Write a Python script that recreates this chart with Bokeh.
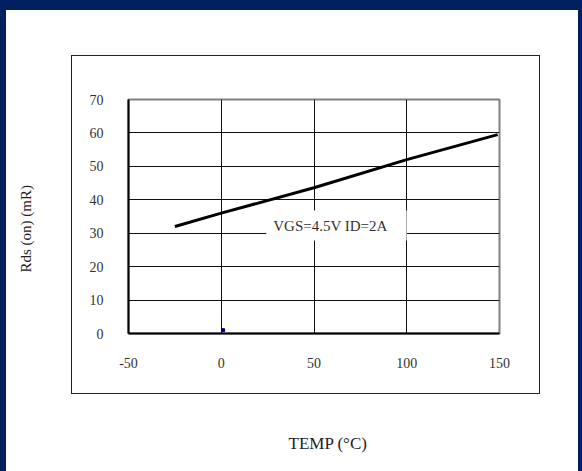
from bokeh.plotting import figure
from bokeh.models import Range1d, FixedTicker, Label, Title, InlineStyleSheet
from bokeh.embed import file_html
from bokeh.resources import INLINE

# ---- data ----
temp_c = [-25, 0, 50, 100, 149]
rds_mohm = [32.0, 36.0, 43.6, 52.0, 59.5]
marker_x = [1]
marker_y = [1]
x_ticks = [-50, 0, 50, 100, 150]
y_ticks = [0, 10, 20, 30, 40, 50, 60, 70]
condition_text = "VGS=4.5V ID=2A"
y_title = "Rds (on) (mR)"
x_title = "TEMP (\u00b0C)"

FONT = "Liberation Serif"
NAVY = "#002060"

p = figure(width=582, height=471, output_backend="svg", toolbar_location=None,
           x_range=Range1d(-50, 150), y_range=Range1d(0, 70),
           min_border_left=128, min_border_right=83,
           min_border_top=99, min_border_bottom=138)
p.background_fill_color = "white"
p.border_fill_color = "white"
p.outline_line_color = "#808080"
p.outline_line_width = 2

for ax in (p.xaxis[0], p.yaxis[0]):
    ax.axis_line_color = "black"
    ax.axis_line_width = 2
    ax.major_tick_line_color = None
    ax.minor_tick_line_color = None
    ax.major_label_text_font = FONT
    ax.major_label_text_font_size = "14px"
    ax.major_label_text_color = "#333333"

p.xaxis[0].ticker = FixedTicker(ticks=x_ticks)
p.xaxis[0].major_label_overrides = {t: str(t) for t in x_ticks}
p.yaxis[0].ticker = FixedTicker(ticks=y_ticks)
p.xaxis[0].major_label_standoff = 18
p.yaxis[0].major_label_standoff = 19

p.xgrid.ticker = FixedTicker(ticks=x_ticks)
p.ygrid.ticker = FixedTicker(ticks=y_ticks)
p.xgrid.grid_line_color = "#111111"
p.ygrid.grid_line_color = "#111111"
p.xgrid.grid_line_width = 1
p.ygrid.grid_line_width = 1

p.line(temp_c, rds_mohm, line_color="black", line_width=3)
p.scatter(marker_x, marker_y, marker="square", size=3, color="#000080")

p.add_layout(Label(x=62.1, y=32.3, text=condition_text, text_font=FONT,
                   text_font_size="15px", text_color="#333333",
                   text_align="center", text_baseline="middle",
                   background_fill_color="white", padding=(7, 19, 7, 7)))

# blank spacers place the axis titles where the reference has them
p.add_layout(Title(text=" ", standoff=58, text_font_size="1px"), "below")
p.add_layout(Title(text=x_title, align="left", offset=160, standoff=0,
                   text_font=FONT, text_font_size="17px", text_font_style="normal",
                   text_color="#222222"), "below")
p.add_layout(Title(text=" ", standoff=50, text_font_size="1px"), "left")
p.add_layout(Title(text=y_title, align="left", offset=61, standoff=0,
                   text_font=FONT, text_font_size="15px", text_font_style="normal",
                   text_color="#222222"), "left")

# chart-area box and navy page border, drawn with CSS around the canvas
css = """
:host { position: relative; }
:host::before {
  content: ""; position: absolute; left: 0; top: 0; width: 582px; height: 471px;
  box-sizing: border-box; border-style: solid; border-color: #002060;
  border-width: 10px 4px 0 6px; pointer-events: none; z-index: 10;
}
:host::after {
  content: ""; position: absolute; left: 71px; top: 55px; width: 469px; height: 339px;
  box-sizing: border-box; border: 1px solid #222222; pointer-events: none; z-index: 10;
}
"""
p.stylesheets = [InlineStyleSheet(css=css)]

open("out.html", "w").write(file_html(p, INLINE))
